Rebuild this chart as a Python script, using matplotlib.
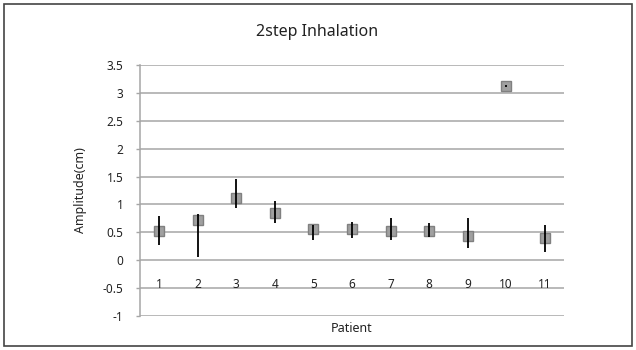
import matplotlib
matplotlib.use("Agg")
import matplotlib.pyplot as plt
from matplotlib.patches import Rectangle

plt.rcParams['font.family'] = ['Noto Sans', 'DejaVu Sans']

patients = ["1", "2", "3", "4", "5", "6", "7", "8", "9", "10", "11"]
amplitude = [0.52, 0.72, 1.12, 0.85, 0.56, 0.56, 0.52, 0.52, 0.43, 3.12, 0.39]
err_high = [0.79, 0.82, 1.46, 1.07, 0.63, 0.69, 0.75, 0.66, 0.75, 3.14, 0.63]
err_low = [0.27, 0.05, 0.93, 0.66, 0.36, 0.40, 0.36, 0.42, 0.22, 3.10, 0.15]
y_ticks = [-1, -0.5, 0, 0.5, 1, 1.5, 2, 2.5, 3, 3.5]
y_tick_labels = ["-1", "-0.5", "0", "0.5", "1", "1.5", "2", "2.5", "3", "3.5"]

fig = plt.figure(figsize=(6.36, 3.5), dpi=100)
ax = fig.add_axes([140/636, 1-316/350, 424/636, 251/350])

xs = list(range(1, len(patients) + 1))
lower = [a - l for a, l in zip(amplitude, err_low)]
upper = [h - a for a, h in zip(amplitude, err_high)]

for y in y_ticks:
    ax.axhline(y, color='#a6a6a6', lw=1.1, zorder=1)

ax.plot(xs, amplitude, linestyle='none', marker='s', markersize=7,
        markerfacecolor='#a0a0a0', markeredgecolor='#808080',
        markeredgewidth=1.0, zorder=3)
ax.errorbar(xs, amplitude, yerr=[lower, upper], fmt='none', ecolor='black',
            elinewidth=1.3, capsize=0, zorder=4)

ax.set_xlim(0.5, len(patients) + 0.5)
ax.set_ylim(-1, 3.5)
ax.set_yticks(y_ticks)
ax.set_yticklabels(y_tick_labels, fontsize=8.5, color='#222222')
ax.tick_params(axis='y', length=3, width=1, color='#a6a6a6', pad=9)
ax.set_xticks([])

for s in ['top', 'right', 'bottom']:
    ax.spines[s].set_visible(False)
ax.spines['left'].set_color('#a6a6a6')
ax.spines['left'].set_linewidth(1.1)

for x, lab in zip(xs, patients):
    ax.text(x, -0.5, lab, ha='center', va='baseline', fontsize=8.5,
            color='#222222', zorder=5)

ax.set_ylabel("Amplitude(cm)", fontsize=9, color='#222222')
ax.yaxis.set_label_coords(-0.125, 0.5)
fig.text(352/636, 1-329/350, "Patient", ha='center', va='center',
         fontsize=9, color='#222222')
fig.text(317/636, 1-32/350, "2step Inhalation", ha='center', va='center',
         fontsize=11.5, color='#222222')

fig.patches.append(Rectangle((4/636, 4/350), 628/636, 342/350,
                             transform=fig.transFigure, fill=False,
                             edgecolor='#444444', lw=1.2))

fig.savefig("out.png", dpi=100)
